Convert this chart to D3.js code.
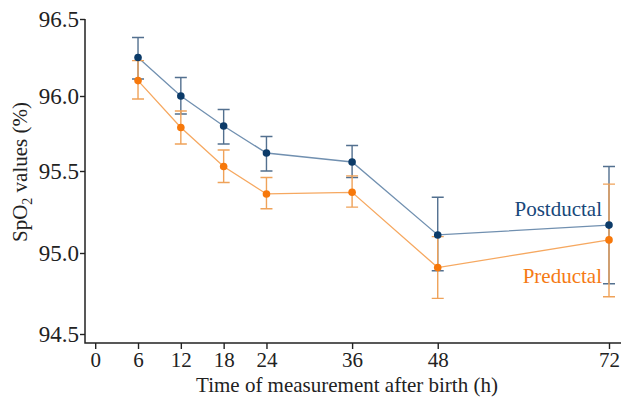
<!DOCTYPE html>
<html>
<head>
<meta charset="utf-8">
<script src="https://cdn.jsdelivr.net/npm/d3@7"></script>
<style>
  body { margin: 0; background: #fff; }
  svg text { font-family: "Liberation Serif", "DejaVu Serif", serif; }
</style>
</head>
<body>
<div id="chart"></div>
<script>
// measurement times (h)
const hours = [6, 12, 18, 24, 36, 48, 72];
const xTicks = [0, 6, 12, 18, 24, 36, 48, 72];
const yTicks = [94.5, 95.0, 95.5, 96.0, 96.5];

// postductal SpO2 mean and error bar ends
const postMean = [96.25, 96.00, 95.80, 95.62, 95.56, 95.11, 95.17];
const postHigh = [96.38, 96.12, 95.91, 95.73, 95.67, 95.34, 95.53];
const postLow  = [96.11, 95.88, 95.68, 95.50, 95.46, 94.89, 94.81];

// preductal SpO2 mean and error bar ends
const preMean = [96.10, 95.79, 95.53, 95.36, 95.37, 94.91, 95.08];
const preHigh = [96.23, 95.90, 95.64, 95.46, 95.47, 95.10, 95.42];
const preLow  = [95.98, 95.68, 95.43, 95.27, 95.28, 94.72, 94.73];

const width = 621, height = 404;
const axisX = 85, axisY = 343;
const serif = "'Liberation Serif', 'DejaVu Serif', serif";

const svg = d3.select("#chart").append("svg")
    .attr("width", width)
    .attr("height", height);

const xScale = d3.scaleLinear().domain([0, 72]).range([95.2, 609]);
// the printed axis is slightly uneven, follow the tick positions
const yScale = d3.scaleLinear()
    .domain([94.5, 95.0, 95.5, 96.0, 96.5])
    .range([334, 253, 171, 96, 19]);

const series = [
    {name: "Postductal", mean: postMean, hi: postHigh, lo: postLow,
     dot: "#0c3b69", line: "#7190b0", err: "#53708f", label: "#17477a", ly: 216},
    {name: "Preductal", mean: preMean, hi: preHigh, lo: preLow,
     dot: "#f7780a", line: "#f6a860", err: "#efa259", label: "#f57a14", ly: 283}
];

// axes
const xAxis = svg.append("g")
    .attr("transform", `translate(0, ${axisY})`)
    .call(d3.axisBottom(xScale).tickValues(xTicks).tickSize(6).tickSizeOuter(0).tickFormat(d => d))
    .attr("font-family", serif)
    .attr("font-size", 21);
xAxis.select(".domain").remove();
xAxis.selectAll(".tick line").attr("stroke", "#222").attr("stroke-width", 1.4);
xAxis.selectAll(".tick text")
    .attr("y", 9)
    .attr("dy", "0.71em")
    .attr("fill", "#222");

const yAxis = svg.append("g")
    .attr("transform", `translate(${axisX}, 0)`)
    .call(d3.axisLeft(yScale).tickValues(yTicks).tickSize(5).tickSizeOuter(0).tickFormat(d3.format(".1f")))
    .attr("font-family", serif)
    .attr("font-size", 23);
yAxis.select(".domain").remove();
yAxis.selectAll(".tick line").attr("stroke", "#222").attr("stroke-width", 1.4);
yAxis.selectAll(".tick text")
    .attr("x", -6)
    .attr("fill", "#222");

svg.append("path")
    .attr("d", `M${axisX},${yScale(96.5)}V${axisY}H${width}`)
    .attr("fill", "none")
    .attr("stroke", "#222")
    .attr("stroke-width", 1.5);

// axis titles
svg.append("text")
    .attr("x", 347)
    .attr("y", 392)
    .attr("text-anchor", "middle")
    .attr("font-size", 21)
    .attr("fill", "#222")
    .text("Time of measurement after birth (h)");

const yTitle = svg.append("text")
    .attr("transform", "translate(27, 172) rotate(-90)")
    .attr("text-anchor", "middle")
    .attr("font-size", 21)
    .attr("fill", "#222");
yTitle.append("tspan").text("SpO");
yTitle.append("tspan").attr("font-size", 14).attr("dy", 5).text("2");
yTitle.append("tspan").attr("dy", -5).text(" values (%)");

// series
const line = d3.line()
    .x(d => xScale(d.h))
    .y(d => yScale(d.v));

series.forEach(s => {
    const pts = hours.map((h, i) => ({h: h, v: s.mean[i], hi: s.hi[i], lo: s.lo[i]}));
    s.pts = pts;

    svg.append("path")
        .datum(pts)
        .attr("d", line)
        .attr("fill", "none")
        .attr("stroke", s.line)
        .attr("stroke-width", 1.3);
});

series.forEach(s => {
    const g = svg.append("g")
        .attr("stroke", s.err)
        .attr("stroke-width", 1.4)
        .attr("fill", "none");
    g.selectAll(".bar").data(s.pts).enter().append("path")
        .attr("d", d => {
            const x = xScale(d.h), y1 = yScale(d.hi), y2 = yScale(d.lo);
            return `M${x},${y1}V${y2}M${x - 6},${y1}H${x + 6}M${x - 6},${y2}H${x + 6}`;
        });
});

series.forEach(s => {
    svg.selectAll(null).data(s.pts).enter().append("circle")
        .attr("cx", d => xScale(d.h))
        .attr("cy", d => yScale(d.v))
        .attr("r", 3.8)
        .attr("fill", s.dot);

    svg.append("text")
        .attr("x", 602)
        .attr("y", s.ly)
        .attr("text-anchor", "end")
        .attr("font-size", 21)
        .attr("fill", s.label)
        .text(s.name);
});
</script>
</body>
</html>
